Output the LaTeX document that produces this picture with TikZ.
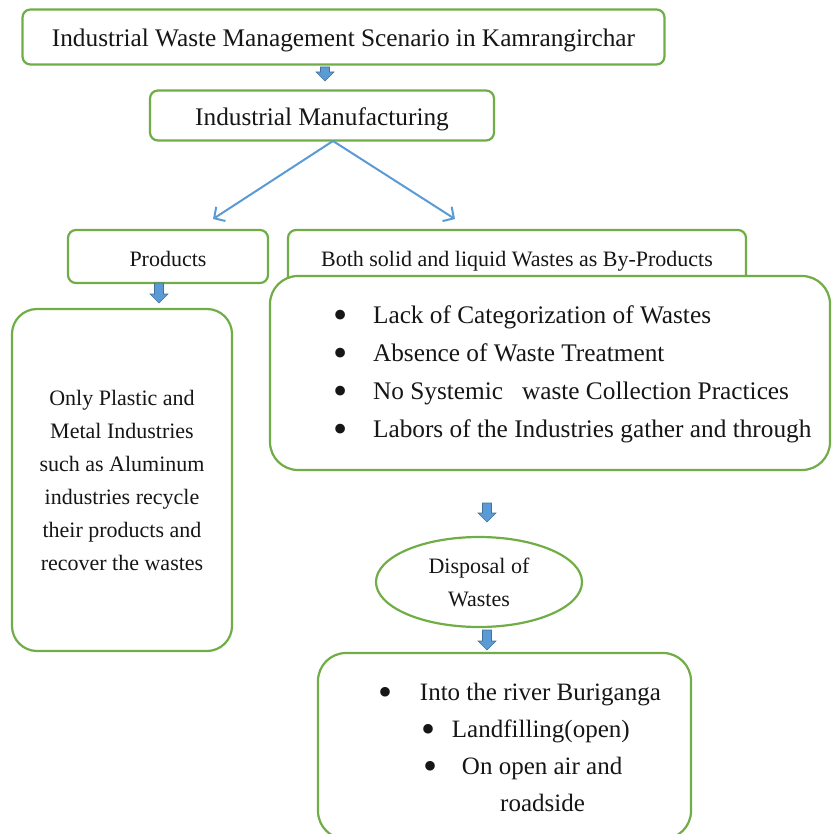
\documentclass[tikz,border=0pt]{standalone}
\usepackage{fontspec}
\usepackage{graphicx}
\setmainfont{Liberation Serif}
\usetikzlibrary{shapes.geometric,arrows.meta,calc}
\definecolor{bgreen}{HTML}{70AD47}
\definecolor{ablue}{HTML}{5B9BD5}
\definecolor{ablueD}{HTML}{41719C}
\definecolor{txt}{HTML}{161616}
\newcommand{\mybul}{\makebox[0.35em]{\raisebox{-0.2em}{\scalebox{1.6}{\textbullet}}}}
\tikzset{
  box/.style={draw=bgreen, line width=2.2pt, fill=white, rounded corners=#1, inner sep=0pt, text=txt},
  box/.default=8pt,
  oneline/.style={text height=#1, text depth=0pt},
  bigfont/.style={font=\fontsize{25.3}{30}\selectfont},
  smallfont/.style={font=\fontsize{22}{33}\selectfont},
  barrow/.style={fill=ablue, draw=ablueD, line width=0.6pt,
    to path={let \p1=(\tikztostart),\p2=(\tikztotarget) in
      (\x1-4.5pt,\y1) -- (\x1+4.5pt,\y1) -- (\x1+4.5pt,\y2+9pt) -- (\x1+9pt,\y2+9pt)
      -- (\x1,\y2) -- (\x1-9pt,\y2+9pt) -- (\x1-4.5pt,\y2+9pt) -- cycle}},
  split/.style={draw=ablue, line width=2pt, -{Straight Barb[length=8pt,width=17pt]}}
}
\begin{document}
\begin{tikzpicture}[x=1pt,y=-1pt]
\useasboundingbox (0,0) rectangle (832,834);
\clip (0,0) rectangle (832,834);

% title and manufacturing
\node[box, oneline=20pt, bigfont, minimum width=642pt, minimum height=55pt] (title) at (343.5,37) {Industrial Waste Management Scenario in Kamrangirchar};
\node[box, oneline=21pt, bigfont, minimum width=344pt, minimum height=50pt] (im) at (322,115.5) {Industrial Manufacturing};

% products and by-products
\node[box, oneline=19pt, smallfont, minimum width=200pt, minimum height=53pt] (prod) at (168,256.5) {Products};
\node[box, oneline=14pt, smallfont, minimum width=458pt, minimum height=58pt] (byprod) at (517,259) {Both solid and liquid Wastes as By-Products};

% left box
\node[box=25pt, smallfont, align=center, minimum width=220pt, minimum height=342pt] (recycle) at (122,480)
  {Only Plastic and\\Metal Industries\\such as Aluminum\\industries recycle\\their products and\\recover the wastes};

% problems box
\node[box=28pt, minimum width=560pt, minimum height=194pt] (lack) at (550,373) {};
\node[anchor=west, align=left, inner sep=0pt, text=txt, font=\fontsize{25.3}{38}\selectfont] (lacktxt) at (336,374)
  {\mybul\hspace*{28pt}Lack of Categorization of Wastes\\
   \mybul\hspace*{28pt}Absence of Waste Treatment\\
   \mybul\hspace*{28pt}No Systemic\ \ \ waste Collection Practices\\
   \mybul\hspace*{28pt}Labors of the Industries gather and through};

% disposal
\node[draw=bgreen, line width=2.2pt, ellipse, minimum width=206pt, minimum height=90pt, align=center, smallfont, text=txt, inner sep=0pt] (disp) at (479,582) {Disposal of\\Wastes};

% disposal routes
\node[box=28pt, minimum width=373pt, minimum height=186pt] (routes) at (504.5,746) {};
\node[anchor=west, align=left, inner sep=0pt, text=txt, font=\fontsize{25}{37}\selectfont] (routestxt) at (381,747)
  {\mybul\hspace*{30pt}Into the river Buriganga\\
   \hspace*{42.5pt}\mybul\hspace*{19.5pt}Landfilling(open)\\
   \hspace*{44.5pt}\mybul\hspace*{27.5pt}On open air and\\
   \hspace*{119pt}roadside};

% split connectors
\coordinate (sp) at (333,141);
\coordinate (spL) at (213,219);
\coordinate (spR) at (455,219);
\draw[split] (sp) -- (spL);
\draw[split] (sp) -- (spR);

% block arrows
\coordinate (a1s) at (325,67);  \coordinate (a1e) at (325,81);
\coordinate (a2s) at (159,283); \coordinate (a2e) at (159,303);
\coordinate (a3s) at (487,503); \coordinate (a3e) at (487,522);
\coordinate (a4s) at (487,630); \coordinate (a4e) at (487,650);
\draw[barrow] (a1s) to (a1e);
\draw[barrow] (a2s) to (a2e);
\draw[barrow] (a3s) to (a3e);
\draw[barrow] (a4s) to (a4e);
\end{tikzpicture}
\end{document}
